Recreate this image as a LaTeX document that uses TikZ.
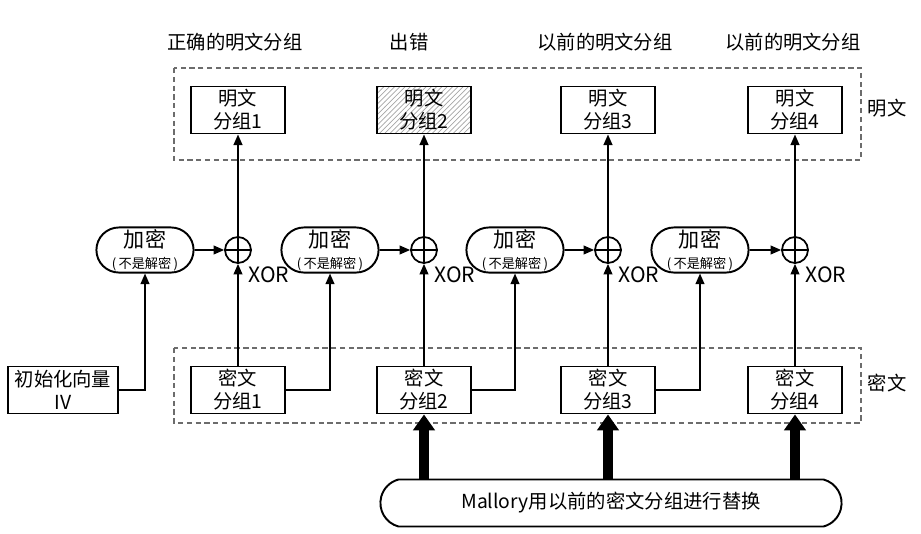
\documentclass[tikz,border=0pt]{standalone}
\usepackage{fontspec}
\setmainfont{Noto Sans CJK SC}
\usetikzlibrary{arrows.meta,patterns,calc,positioning,shapes.misc}

\begin{document}
\begin{tikzpicture}[x=0.02cm,y=-0.02cm,
  every node/.style={font=\fontsize{11}{13}\selectfont},
  blk/.style={draw,line width=1.1pt,minimum width=1.88cm,minimum height=0.94cm,
    align=center,inner sep=1pt},
  enc/.style={draw,line width=1.1pt,rounded rectangle,minimum width=1.9cm,
    minimum height=0.88cm,align=center,inner sep=1pt},
  xor/.style={draw,circle,line width=1pt,minimum size=0.52cm,inner sep=0pt},
  grp/.style={draw,densely dashed,gray!85!black,line width=0.6pt},
  >={Triangle[length=6pt,width=5pt]}]
\useasboundingbox (0,0) rectangle (921,534);

% groups
\draw[grp] (174,68) rectangle (861,160);
\draw[grp] (174,348) rectangle (861,423);
\node (lp) at (887,108) {明文};
\node (lc) at (887,383) {密文};

% titles
\node (t1) at (235,42) {正确的明文分组};
\node (t2) at (409,42) {出错};
\node (t3) at (605,42) {以前的明文分组};
\node (t4) at (793,42) {以前的明文分组};

% plaintext blocks
\node[blk] (p1) at (238,110) {明文\\分组1};
\node[blk,pattern=north east lines,pattern color=gray!70] (p2) at (424,110) {明文\\分组2};
\node[blk] (p3) at (608,110) {明文\\分组3};
\node[blk] (p4) at (795,110) {明文\\分组4};

% xor
\node[xor] (x1) at (238,250) {};
\node[xor] (x2) at (424,250) {};
\node[xor] (x3) at (608,250) {};
\node[xor] (x4) at (795,250) {};
\foreach \n in {x1,x2,x3,x4}
  \draw[line width=1pt] (\n.north) -- (\n.south) (\n.west) -- (\n.east);
\node[anchor=west,inner sep=0pt,font=\fontsize{12}{13}\selectfont] (o1) at (248,275) {XOR};
\node[anchor=west,inner sep=0pt,font=\fontsize{12}{13}\selectfont] (o2) at (434,275) {XOR};
\node[anchor=west,inner sep=0pt,font=\fontsize{12}{13}\selectfont] (o3) at (618,275) {XOR};
\node[anchor=west,inner sep=0pt,font=\fontsize{12}{13}\selectfont] (o4) at (805,275) {XOR};

% encryption
\node[enc] (e1) at (145,250) {{\fontsize{12}{13}\selectfont 加密}\\[-1pt]{\fontsize{7.5}{8}\selectfont (\,不是解密\,)}};
\node[enc] (e2) at (330,250) {{\fontsize{12}{13}\selectfont 加密}\\[-1pt]{\fontsize{7.5}{8}\selectfont (\,不是解密\,)}};
\node[enc] (e3) at (515,250) {{\fontsize{12}{13}\selectfont 加密}\\[-1pt]{\fontsize{7.5}{8}\selectfont (\,不是解密\,)}};
\node[enc] (e4) at (700,250) {{\fontsize{12}{13}\selectfont 加密}\\[-1pt]{\fontsize{7.5}{8}\selectfont (\,不是解密\,)}};

% ciphertext blocks
\node[blk,minimum width=2.2cm] (iv) at (63,390) {初始化向量\\IV};
\node[blk] (c1) at (238,390) {密文\\分组1};
\node[blk] (c2) at (424,390) {密文\\分组2};
\node[blk] (c3) at (608,390) {密文\\分组3};
\node[blk] (c4) at (795,390) {密文\\分组4};

% Mallory
\node[draw,line width=1.1pt,rounded rectangle,rounded rectangle arc length=150,
  minimum width=9.46cm,minimum height=0.94cm] (m) at (611,503) {Mallory用以前的密文分组进行替换};

% connectors
\draw[->,line width=0.9pt] (e1) -- (x1);
\draw[->,line width=0.9pt] (e2) -- (x2);
\draw[->,line width=0.9pt] (e3) -- (x3);
\draw[->,line width=0.9pt] (e4) -- (x4);
\draw[->,line width=0.9pt] (c1) -- (x1);
\draw[->,line width=0.9pt] (c2) -- (x2);
\draw[->,line width=0.9pt] (c3) -- (x3);
\draw[->,line width=0.9pt] (c4) -- (x4);
\draw[->,line width=0.9pt] (x1) -- (p1);
\draw[->,line width=0.9pt] (x2) -- (p2);
\draw[->,line width=0.9pt] (x3) -- (p3);
\draw[->,line width=0.9pt] (x4) -- (p4);
\draw[->,line width=0.9pt] (iv.east) -| (e1.south);
\draw[->,line width=0.9pt] (c1.east) -| (e2.south);
\draw[->,line width=0.9pt] (c2.east) -| (e3.south);
\draw[->,line width=0.9pt] (c3.east) -| (e4.south);
\draw[-{Triangle[length=9pt,width=12pt]},line width=5.5pt] (m.north -| c2) -- (c2.south);
\draw[-{Triangle[length=9pt,width=12pt]},line width=5.5pt] (m.north -| c3) -- (c3.south);
\draw[-{Triangle[length=9pt,width=12pt]},line width=5.5pt] (m.north -| c4) -- (c4.south);
\end{tikzpicture}
\end{document}
